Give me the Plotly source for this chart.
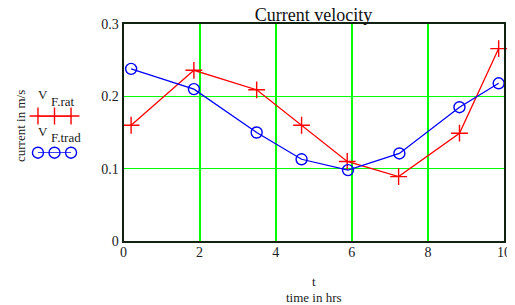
import plotly.graph_objects as go

t_rat = [0.2, 1.85, 3.5, 4.68, 5.88, 7.23, 8.83, 9.86]
v_rat = [0.160, 0.236, 0.209, 0.160, 0.110, 0.089, 0.149, 0.266]
t_trad = [0.2, 1.85, 3.5, 4.68, 5.9, 7.25, 8.83, 9.86]
v_trad = [0.238, 0.210, 0.150, 0.113, 0.098, 0.121, 0.185, 0.218]
x_ticks = [0, 2, 4, 6, 8, 10]
y_ticks = [0, 0.1, 0.2, 0.3]
y_tick_text = ["0", "0.1", "0.2", "0.3"]
legend_x = [1, 2, 3]

FONT = "Liberation Serif, Times New Roman, DejaVu Serif, serif"
RED = "#ff0000"
BLUE = "#0000ff"
GRID = "#00ff00"

OFF = 8  # page body margin
W, H = 515 - OFF, 305 - OFF

def px(xp):
    return (xp - OFF) / W

def py(yp):
    return 1 - (yp - OFF) / H

fig = go.Figure()
fig.add_trace(go.Scatter(x=t_rat, y=v_rat, mode="lines+markers",
                         line=dict(color=RED, width=1.3), cliponaxis=False,
                         marker=dict(symbol="cross-thin", size=12, line=dict(color=RED, width=1.4)),
                         showlegend=False))
fig.add_trace(go.Scatter(x=t_trad, y=v_trad, mode="lines+markers",
                         line=dict(color=BLUE, width=1.3), cliponaxis=False,
                         marker=dict(symbol="circle-open", size=11, color=BLUE, line=dict(color=BLUE, width=1.4)),
                         showlegend=False))
# legend samples on a helper axis
fig.add_trace(go.Scatter(x=legend_x, y=[1, 1, 1], mode="lines+markers", xaxis="x2", yaxis="y2",
                         line=dict(color=RED, width=1.3), cliponaxis=False,
                         marker=dict(symbol="cross-thin", size=12, line=dict(color=RED, width=1.4)),
                         showlegend=False, hoverinfo="skip"))
fig.add_trace(go.Scatter(x=legend_x, y=[0, 0, 0], mode="lines+markers", xaxis="x2", yaxis="y2",
                         line=dict(color=BLUE, width=1.3), cliponaxis=False,
                         marker=dict(symbol="circle-open", size=11, color=BLUE, line=dict(color=BLUE, width=1.4)),
                         showlegend=False, hoverinfo="skip"))

fig.update_layout(
    width=W, height=H,
    margin=dict(l=0, r=0, t=0, b=0),
    paper_bgcolor="white", plot_bgcolor="white",
    font=dict(family=FONT, size=13, color="#222222"),
    title=dict(text="Current velocity", x=px(313.5), xanchor="center", y=py(14.5), yanchor="middle",
               automargin=False, font=dict(family=FONT, size=18, color="#111111")),
    xaxis=dict(domain=[px(123.5), px(504)], range=[0, 10], tickvals=x_ticks, showgrid=True,
               gridcolor=GRID, gridwidth=1.5, automargin=False, ticklabelstandoff=-3,
               showline=True, linecolor="#112211", linewidth=2, mirror=True, zeroline=False,
               ticks="", tickfont=dict(family=FONT, size=14, color="#222222")),
    yaxis=dict(domain=[py(241), py(24)], range=[0, 0.3], tickvals=y_ticks, ticktext=y_tick_text,
               showgrid=True, gridcolor=GRID, automargin=False,
               gridwidth=1.2, showline=True, linecolor="#112211", linewidth=2, mirror=True, zeroline=False,
               ticks="", tickfont=dict(family=FONT, size=14, color="#222222")),
    xaxis2=dict(domain=[px(33), px(76)], range=[0.7, 3.3], anchor="y2", visible=False, automargin=False),
    yaxis2=dict(domain=[py(152.7), py(116)], range=[0, 1], anchor="x2", visible=False, automargin=False),
)

ann = [
    dict(text="t", x=px(313.5), y=py(281), xref="paper", yref="paper", showarrow=False,
         font=dict(family=FONT, size=13), xanchor="center", yanchor="middle"),
    dict(text="time in hrs", x=px(313.5), y=py(297), xref="paper", yref="paper", showarrow=False,
         font=dict(family=FONT, size=13), xanchor="center", yanchor="middle"),
    dict(text="current in m/s", x=px(21), y=py(126), xref="paper", yref="paper", showarrow=False,
         textangle=-90, font=dict(family=FONT, size=13), xanchor="center", yanchor="middle"),
    dict(text="V", x=px(36), y=py(94), xref="paper", yref="paper", showarrow=False,
         font=dict(family=FONT, size=13), xanchor="left", yanchor="middle"),
    dict(text="F.rat", x=px(49), y=py(101), xref="paper", yref="paper", showarrow=False,
         font=dict(family=FONT, size=13), xanchor="left", yanchor="middle"),
    dict(text="V", x=px(36), y=py(131), xref="paper", yref="paper", showarrow=False,
         font=dict(family=FONT, size=13), xanchor="left", yanchor="middle"),
    dict(text="F.trad", x=px(49), y=py(137), xref="paper", yref="paper", showarrow=False,
         font=dict(family=FONT, size=13), xanchor="left", yanchor="middle"),
]
fig.update_layout(annotations=ann)

fig.write_html("out.html")
